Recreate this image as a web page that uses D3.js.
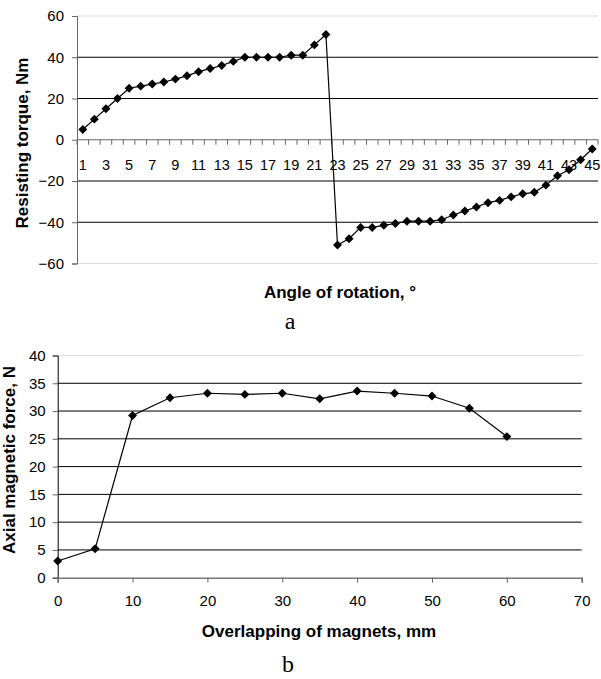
<!DOCTYPE html>
<html>
<head>
<meta charset="utf-8">
<script src="https://cdn.jsdelivr.net/npm/d3@7"></script>
<style>
  body { margin: 0; background: #fff; }
  svg text { font-family: Arial, "Liberation Sans", sans-serif; fill: #000; }
</style>
</head>
<body>
<div id="chart-area"></div>
<script>
// chart a: resisting torque vs angle of rotation
var angles = [1,2,3,4,5,6,7,8,9,10,11,12,13,14,15,16,17,18,19,20,21,22,23,
              24,25,26,27,28,29,30,31,32,33,34,35,36,37,38,39,40,41,42,43,44,45];
var torque = [5,10,15,20,25,26,27,28,29.4,31,33,34.5,36,38,40,40,40,40,41,41,46,51,
              -51,-48,-42.5,-42.5,-41.5,-40.6,-39.5,-39.5,-39.5,-38.8,
              -36.5,-34.5,-32.6,-30.5,-29.4,-27.7,-26.2,-25.5,-22,-17.5,-14.5,-9.7,-4.5];
var torqueTicks = [-60,-40,-20,0,20,40,60];

// chart b: axial magnetic force vs overlapping
var overlap = [0,5,10,15,20,25,30,35,40,45,50,55,60];
var force = [3,5.2,29.2,32.4,33.2,33,33.2,32.2,33.6,33.2,32.7,30.5,25.4];
var forceTicks = [0,5,10,15,20,25,30,35,40];
var overlapTicks = [0,10,20,30,40,50,60,70];

var svg = d3.select("#chart-area")
    .append("svg")
    .attr("width", 601)
    .attr("height", 679);

var diamond = d3.symbol().type(d3.symbolSquare).size(40);

// ---------- chart a ----------
var xa = d3.scaleBand()
    .domain(angles)
    .range([77, 598]);

var ya = d3.scaleLinear()
    .domain([-60, 60])
    .range([263.5, 16]);

var ga = svg.append("g");

// gridlines
ga.selectAll("line.grid")
    .data(torqueTicks.filter(function(d){ return d !== 0; }))
    .enter().append("line")
    .attr("class", "grid")
    .attr("x1", 77).attr("x2", 598)
    .attr("y1", function(d){ return ya(d); })
    .attr("y2", function(d){ return ya(d); })
    .attr("stroke", function(d){ return Math.abs(d) === 60 ? "#dcdcdc" : "#000"; })
    .attr("stroke-width", 1);

// Y axis
var yAxisA = ga.append("g")
    .attr("transform", "translate(77,0)")
    .call(d3.axisLeft(ya).tickValues(torqueTicks).tickSize(5).tickPadding(8));
yAxisA.select(".domain").attr("stroke", "#666");
yAxisA.selectAll(".tick line").attr("stroke", "#666");
yAxisA.selectAll("text").attr("font-size", "15px").attr("font-family", "Arial, 'Liberation Sans', sans-serif");

// X axis at zero: boundary ticks + labels on odd categories
ga.append("line")
    .attr("x1", 77).attr("x2", 598)
    .attr("y1", ya(0)).attr("y2", ya(0))
    .attr("stroke", "#666");

var bounds = angles.map(function(d){ return xa(d); }).concat([xa.range()[1]]);
ga.selectAll("line.xtick")
    .data(bounds)
    .enter().append("line")
    .attr("class", "xtick")
    .attr("x1", function(d){ return d; })
    .attr("x2", function(d){ return d; })
    .attr("y1", ya(0)).attr("y2", ya(0) + 5)
    .attr("stroke", "#666");

ga.selectAll("text.xlab")
    .data(angles.filter(function(d){ return d % 2 === 1; }))
    .enter().append("text")
    .attr("class", "xlab")
    .attr("x", function(d){ return xa(d) + xa.bandwidth() / 2; })
    .attr("y", ya(0) + 30)
    .attr("text-anchor", "middle")
    .attr("font-size", "14.5px")
    .text(function(d){ return d; });

// line + markers
var lineA = d3.line()
    .x(function(d, i){ return xa(angles[i]) + xa.bandwidth() / 2; })
    .y(function(d){ return ya(d); });

ga.append("path")
    .datum(torque)
    .attr("d", lineA)
    .attr("fill", "none")
    .attr("stroke", "#000")
    .attr("stroke-width", 1.2);

ga.selectAll("path.pt")
    .data(torque)
    .enter().append("path")
    .attr("class", "pt")
    .attr("d", diamond)
    .attr("transform", function(d, i){
        return "translate(" + (xa(angles[i]) + xa.bandwidth() / 2) + "," + ya(d) + ") rotate(45)";
    })
    .attr("fill", "#000");

// titles
ga.append("text")
    .attr("transform", "translate(27.5,143) rotate(-90)")
    .attr("text-anchor", "middle")
    .attr("font-size", "17px")
    .attr("font-weight", "bold")
    .text("Resisting torque, Nm");

ga.append("text")
    .attr("x", 340)
    .attr("y", 298)
    .attr("text-anchor", "middle")
    .attr("font-size", "17px")
    .attr("font-weight", "bold")
    .text("Angle of rotation, °");

ga.append("text")
    .attr("x", 290)
    .attr("y", 329)
    .attr("text-anchor", "middle")
    .attr("font-size", "24px")
    .style("font-family", "'Liberation Serif', 'Times New Roman', serif")
    .text("a");

// ---------- chart b ----------
var xb = d3.scaleLinear()
    .domain([0, 70])
    .range([57.7, 581.7]);

var yb = d3.scaleLinear()
    .domain([0, 40])
    .range([577.7, 355.5]);

var gb = svg.append("g");

gb.selectAll("line.grid")
    .data(forceTicks.filter(function(d){ return d !== 0; }))
    .enter().append("line")
    .attr("class", "grid")
    .attr("x1", xb(0)).attr("x2", xb(70))
    .attr("y1", function(d){ return yb(d); })
    .attr("y2", function(d){ return yb(d); })
    .attr("stroke", function(d){ return d === 40 ? "#dcdcdc" : "#000"; })
    .attr("stroke-width", 1);

var yAxisB = gb.append("g")
    .attr("transform", "translate(" + xb(0) + ",0)")
    .call(d3.axisLeft(yb).tickValues(forceTicks).tickSize(5).tickPadding(7));
yAxisB.select(".domain").attr("stroke", "#000");
yAxisB.selectAll(".tick line").attr("stroke", "#666");
yAxisB.selectAll("text").attr("font-size", "15px").attr("font-family", "Arial, 'Liberation Sans', sans-serif");

var xAxisB = gb.append("g")
    .attr("transform", "translate(0," + yb(0) + ")")
    .call(d3.axisBottom(xb).tickValues(overlapTicks).tickSize(5).tickPadding(13));
xAxisB.select(".domain").attr("stroke", "#777").attr("stroke-width", 1.5);
xAxisB.selectAll(".tick line").attr("stroke", "#666");
xAxisB.selectAll("text").attr("font-size", "15px").attr("font-family", "Arial, 'Liberation Sans', sans-serif");

var lineB = d3.line()
    .x(function(d, i){ return xb(overlap[i]); })
    .y(function(d){ return yb(d); });

gb.append("path")
    .datum(force)
    .attr("d", lineB)
    .attr("fill", "none")
    .attr("stroke", "#000")
    .attr("stroke-width", 1.2);

gb.selectAll("path.pt")
    .data(force)
    .enter().append("path")
    .attr("class", "pt")
    .attr("d", diamond)
    .attr("transform", function(d, i){
        return "translate(" + xb(overlap[i]) + "," + yb(d) + ") rotate(45)";
    })
    .attr("fill", "#000");

gb.append("text")
    .attr("transform", "translate(15,460) rotate(-90)")
    .attr("text-anchor", "middle")
    .attr("font-size", "17px")
    .attr("font-weight", "bold")
    .text("Axial magnetic force, N");

gb.append("text")
    .attr("x", 319)
    .attr("y", 637)
    .attr("text-anchor", "middle")
    .attr("font-size", "17px")
    .attr("font-weight", "bold")
    .text("Overlapping of magnets, mm");

gb.append("text")
    .attr("x", 288)
    .attr("y", 672)
    .attr("text-anchor", "middle")
    .attr("font-size", "24px")
    .style("font-family", "'Liberation Serif', 'Times New Roman', serif")
    .text("b");
</script>
</body>
</html>
